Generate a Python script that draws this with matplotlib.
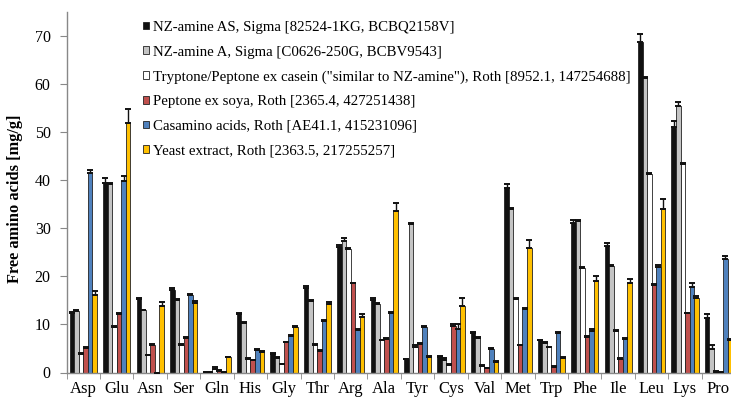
import numpy as np
import matplotlib
matplotlib.use("Agg")
import matplotlib.pyplot as plt
from matplotlib.patches import Patch

plt.rcParams['font.family'] = ['Liberation Serif', 'DejaVu Serif']

amino_acids = ["Asp", "Glu", "Asn", "Ser", "Gln", "His", "Gly", "Thr", "Arg", "Ala",
               "Tyr", "Cys", "Val", "Met", "Trp", "Phe", "Ile", "Leu", "Lys", "Pro"]

series_labels = [
    "NZ-amine AS, Sigma [82524-1KG, BCBQ2158V]",
    "NZ-amine A, Sigma [C0626-250G, BCBV9543]",
    'Tryptone/Peptone ex casein ("similar to NZ-amine"), Roth [8952.1, 147254688]',
    "Peptone ex soya, Roth [2365.4, 427251438]",
    "Casamino acids, Roth [AE41.1, 415231096]",
    "Yeast extract, Roth [2363.5, 217255257]",
]

nz_amine_as = [12.3, 39.4, 15.2, 17.2, 0.05, 12.1, 3.8, 17.6, 26.1, 15.0,
               2.8, 3.3, 8.2, 38.4, 6.7, 31.1, 26.3, 68.7, 51.1, 11.4]
nz_amine_a = [12.8, 39.3, 13.0, 15.1, 0.1, 10.4, 3.1, 14.9, 27.4, 14.2,
              30.8, 2.7, 7.1, 34.0, 6.2, 31.5, 22.2, 61.3, 55.4, 4.8]
tryptone = [3.8, 9.5, 3.6, 5.8, 0.8, 2.9, 1.7, 5.7, 25.6, 6.7,
            5.3, 1.5, 1.3, 15.2, 5.3, 21.8, 8.7, 41.4, 43.4, 0.2]
peptone_soya = [5.1, 12.2, 5.8, 7.2, 0.4, 2.6, 6.3, 4.5, 18.6, 7.0,
                6.0, 9.6, 0.9, 5.7, 1.2, 7.4, 2.9, 18.2, 12.3, 0.05]
casamino = [41.6, 39.9, 0.0, 16.1, 0.1, 4.7, 7.6, 10.7, 8.8, 12.3,
            9.5, 9.0, 4.8, 13.3, 8.3, 8.6, 6.9, 22.0, 17.7, 23.7]
yeast = [16.2, 52.0, 13.8, 14.5, 3.2, 4.3, 9.4, 14.2, 11.6, 33.5,
         3.2, 13.8, 2.2, 26.0, 3.1, 19.0, 18.6, 34.1, 15.4, 6.7]

err_nz_as = [0.3, 1.0, 0.3, 0.4, 0.0, 0.2, 0.2, 0.3, 0.5, 0.4,
             0.1, 0.2, 0.3, 0.9, 0.1, 0.6, 0.6, 1.8, 1.3, 0.8]
err_nz_a = [0.3, 0.2, 0.1, 0.1, 0.0, 0.1, 0.2, 0.1, 0.6, 0.3,
            0.2, 0.3, 0.3, 0.2, 0.1, 0.3, 0.1, 0.1, 0.9, 1.0]
err_tryptone = [0.2, 0.2, 0.1, 0.2, 0.3, 0.1, 0.1, 0.2, 0.3, 0.1,
                0.4, 0.3, 0.2, 0.2, 0.1, 0.1, 0.2, 0.1, 0.1, 0.1]
err_soya = [0.2, 0.2, 0.1, 0.2, 0.2, 0.1, 0.1, 0.2, 0.1, 0.2,
            0.2, 0.4, 0.1, 0.1, 0.1, 0.2, 0.1, 0.2, 0.1, 0.0]
err_casamino = [0.5, 1.0, 0.0, 0.2, 0.0, 0.1, 0.2, 0.2, 0.3, 0.2,
                0.1, 1.1, 0.3, 0.2, 0.2, 0.4, 0.2, 0.3, 0.9, 0.5]
err_yeast = [0.8, 2.8, 0.8, 0.4, 0.1, 0.2, 0.2, 0.5, 0.5, 1.8,
             0.3, 1.7, 0.1, 1.5, 0.2, 1.0, 0.9, 1.9, 0.6, 0.2]

series_values = [nz_amine_as, nz_amine_a, tryptone, peptone_soya, casamino, yeast]
series_errors = [err_nz_as, err_nz_a, err_tryptone, err_soya, err_casamino, err_yeast]
colors = ["#111111", "#C4C4C4", "#FFFFFF", "#C0504D", "#4F81BD", "#FFC000"]

fig = plt.figure(figsize=(7.31, 4.0), dpi=100)
# axes run slightly past the right edge of the figure
ax = fig.add_axes([66.6 / 731, 27.5 / 400, 668.6 / 731, 360.5 / 400])

x = np.arange(len(amino_acids))
bw = 0.136
for i, (vals, errs, c) in enumerate(zip(series_values, series_errors, colors)):
    pos = x + (i - 2.5) * bw
    ax.bar(pos, vals, width=bw, color=c, edgecolor="#222222", linewidth=0.6, zorder=2)
    yerr = np.vstack([np.zeros(len(errs)), errs])
    ax.errorbar(pos, vals, yerr=yerr, fmt="none", ecolor="#111111",
                elinewidth=1.0, capsize=2.3, capthick=1.4, zorder=3)

ax.set_xlim(-0.5, len(amino_acids) - 0.5)
ax.set_ylim(0, 75)
ax.set_yticks(np.arange(0, 71, 10))
ax.set_xticks(x)
ax.set_xticklabels(amino_acids, fontsize=12)
ax.set_xticks(np.arange(-0.5, len(amino_acids), 1.0), minor=True)
ax.tick_params(axis="x", which="major", length=0, pad=6)
ax.tick_params(axis="x", which="minor", length=4, direction="out", color="#888888")
ax.tick_params(axis="y", length=5, direction="out", color="#888888", labelsize=11.5, pad=6.5)

for side in ("top", "right"):
    ax.spines[side].set_visible(False)
for side in ("left", "bottom"):
    ax.spines[side].set_color("#888888")
    ax.spines[side].set_linewidth(1.0)

ax.set_ylabel("Free amino acids [mg/g]", fontsize=11.8, fontweight="bold")
ax.yaxis.set_label_coords(-0.0645, 0.483)

handles = [Patch(facecolor=c, edgecolor="#222222", linewidth=0.6) for c in colors]
ax.legend(handles, series_labels, loc="upper left", bbox_to_anchor=(0.1056, 0.992),
          frameon=False, fontsize=10.75, handlelength=0.42, handleheight=0.42,
          handletextpad=0.25, labelspacing=0.78, borderaxespad=0)

fig.savefig("out.png", dpi=100)
